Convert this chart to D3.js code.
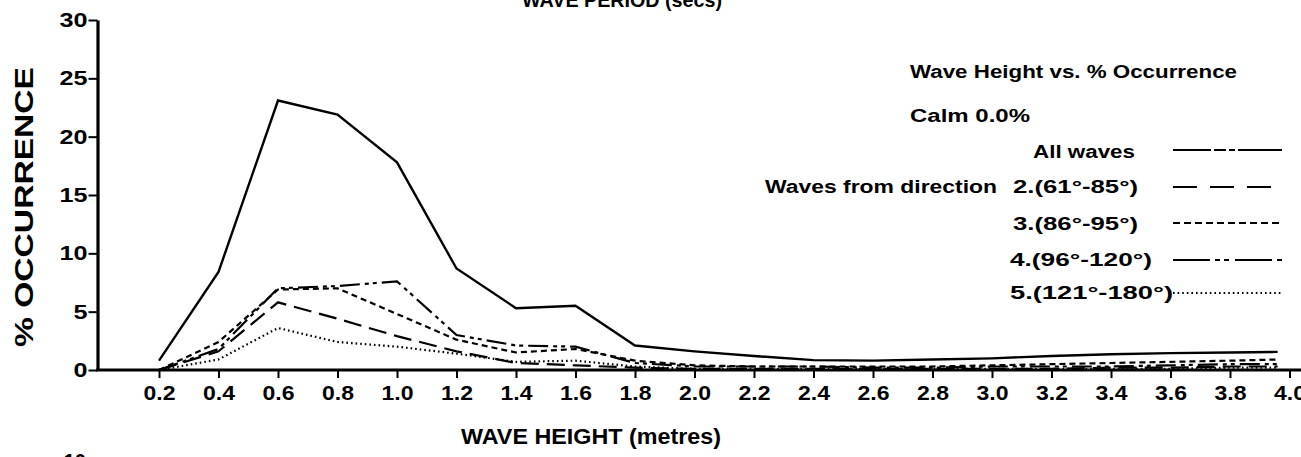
<!DOCTYPE html>
<html>
<head>
<meta charset="utf-8">
<script src="https://cdn.jsdelivr.net/npm/d3@7"></script>
<style>
  html, body { margin: 0; padding: 0; background: #fff; }
  svg { display: block; }
  text { font-family: "Liberation Sans", Arial, Helvetica, sans-serif; fill: #000; }
</style>
</head>
<body>
<svg id="chart" width="1301" height="457"></svg>
<script>
// Wave height bins (metres)
const heights = [0.2, 0.4, 0.6, 0.8, 1.0, 1.2, 1.4, 1.6, 1.8, 2.0,
                 2.2, 2.4, 2.6, 2.8, 3.0, 3.2, 3.4, 3.6, 3.8, 3.96];

// % occurrence per bin
const allWaves = [0.8, 8.4, 23.1, 21.9, 17.8, 8.7, 5.3, 5.5, 2.1, 1.6,
                  1.2, 0.85, 0.8, 0.9, 1.0, 1.2, 1.35, 1.45, 1.5, 1.55];
const dir2 = [0.0, 1.6, 5.8, 4.4, 2.9, 1.6, 0.6, 0.4, 0.2, 0.1,
              0.1, 0.1, 0.1, 0.1, 0.1, 0.1, 0.2, 0.2, 0.3, 0.3];
const dir3 = [0.0, 2.4, 6.9, 7.0, 4.8, 2.6, 1.5, 1.8, 0.8, 0.4,
              0.3, 0.3, 0.3, 0.3, 0.4, 0.5, 0.6, 0.7, 0.8, 0.9];
const dir4 = [0.0, 1.8, 7.0, 7.2, 7.6, 3.0, 2.1, 2.0, 0.6, 0.3,
              0.3, 0.3, 0.2, 0.2, 0.3, 0.3, 0.3, 0.4, 0.5, 0.5];
const dir5 = [0.0, 0.9, 3.6, 2.4, 2.0, 1.4, 0.7, 0.8, 0.3, 0.1,
              0.1, 0.1, 0.1, 0.1, 0.1, 0.1, 0.1, 0.1, 0.2, 0.2];

const seriesNames = ["All waves", "2.(61°-85°)", "3.(86°-95°)", "4.(96°-120°)", "5.(121°-180°)"];
const seriesValues = [allWaves, dir2, dir3, dir4, dir5];

const yTicks = [0, 5, 10, 15, 20, 25, 30];
const xTicks = [0.2, 0.4, 0.6, 0.8, 1.0, 1.2, 1.4, 1.6, 1.8, 2.0,
                2.2, 2.4, 2.6, 2.8, 3.0, 3.2, 3.4, 3.6, 3.8, 4.0];

// Dash styles for the plotted lines and for the legend samples
const dashes = ["none", "18,8", "6,4", "20,5,4,4,4,5", "1.6,3"];
const legendDashes = ["38,3,12,3,6,3,80", "24,13", "7,4", "37,5,5,4,5,6", "1.6,3"];

const svg = d3.select("#chart");

const x = d3.scaleLinear().domain([0, 4.04]).range([99.5, 1301.4]);
const y = d3.scaleLinear().domain([0, 30]).range([370, 20]);

const bold = sel => sel.attr("font-weight", "bold")
  .attr("font-family", "Liberation Sans, Arial, Helvetica, sans-serif");

// Heading of the neighbouring chart, cut by the top edge
svg.append("text")
  .attr("x", 622).attr("y", 7)
  .attr("text-anchor", "middle")
  .attr("font-size", 21)
  .attr("textLength", 200).attr("lengthAdjust", "spacingAndGlyphs")
  .call(bold)
  .text("WAVE PERIOD (secs)");

// Y axis
const yAxis = svg.append("g")
  .attr("transform", `translate(${x(0) - 2},0)`)
  .call(d3.axisLeft(y).tickValues(yTicks).tickSize(9).tickSizeOuter(0).tickPadding(1));
yAxis.select(".domain").attr("stroke-width", 3.2);
yAxis.selectAll(".tick line").attr("stroke-width", 2);
yAxis.selectAll(".tick text")
  .attr("font-size", 20)
  .attr("textLength", d => String(d).length * 14)
  .attr("lengthAdjust", "spacingAndGlyphs")
  .call(bold);

// X axis
const xAxis = svg.append("g")
  .attr("transform", `translate(0,${y(0)})`)
  .call(d3.axisBottom(x).tickValues(xTicks).tickSize(8).tickSizeOuter(0)
    .tickPadding(8).tickFormat(d3.format(".1f")));
xAxis.select(".domain").attr("stroke-width", 3.2)
  .attr("d", `M${x(0) - 3.5},0H${x.range()[1]}`);
xAxis.selectAll(".tick line").attr("stroke-width", 2);
xAxis.selectAll(".tick text")
  .attr("font-size", 20)
  .attr("textLength", 32).attr("lengthAdjust", "spacingAndGlyphs")
  .call(bold);

// Axis titles
svg.append("text")
  .attr("transform", `translate(33,${(y(0) + y(30)) / 2 + 12}) rotate(-90)`)
  .attr("text-anchor", "middle")
  .attr("font-size", 26)
  .attr("textLength", 280).attr("lengthAdjust", "spacingAndGlyphs")
  .call(bold)
  .text("% OCCURRENCE");

svg.append("text")
  .attr("x", 591).attr("y", 444)
  .attr("text-anchor", "middle")
  .attr("font-size", 22)
  .attr("textLength", 260).attr("lengthAdjust", "spacingAndGlyphs")
  .call(bold)
  .text("WAVE HEIGHT (metres)");

// Tick label of the chart below, cut by the bottom edge
svg.append("text")
  .attr("x", 86).attr("y", 468)
  .attr("text-anchor", "end")
  .attr("font-size", 20)
  .call(bold)
  .text("10");

// Series lines
const line = d3.line()
  .x((d, i) => x(heights[i]))
  .y(d => y(d));

svg.append("g").selectAll("path")
  .data(seriesValues)
  .join("path")
  .attr("d", d => line(d))
  .attr("fill", "none")
  .attr("stroke", "#000")
  .attr("stroke-width", (d, i) => i === 0 ? 2.4 : 2.2)
  .attr("stroke-dasharray", (d, i) => dashes[i]);

// Legend
const legend = svg.append("g");
legend.append("text")
  .attr("x", 910).attr("y", 78)
  .attr("font-size", 18)
  .attr("textLength", 327).attr("lengthAdjust", "spacingAndGlyphs")
  .call(bold)
  .text("Wave Height vs. % Occurrence");
legend.append("text")
  .attr("x", 910).attr("y", 122)
  .attr("font-size", 18)
  .attr("textLength", 120).attr("lengthAdjust", "spacingAndGlyphs")
  .call(bold)
  .text("Calm 0.0%");
legend.append("text")
  .attr("x", 765).attr("y", 193)
  .attr("font-size", 18)
  .attr("textLength", 232).attr("lengthAdjust", "spacingAndGlyphs")
  .call(bold)
  .text("Waves from direction");

const rowY = [150, 187, 223, 260, 293];
const rowBase = [158, 193, 230, 266, 299];
const rowX = [1033, 1013, 1013, 1010, 1010];
const rowW = [102, 125, 125, 142, 163];
const rows = legend.selectAll("g.row")
  .data(seriesNames)
  .join("g")
  .attr("class", "row");
rows.append("text")
  .attr("x", (d, i) => rowX[i])
  .attr("y", (d, i) => rowBase[i])
  .attr("font-size", 18)
  .attr("textLength", (d, i) => rowW[i]).attr("lengthAdjust", "spacingAndGlyphs")
  .call(bold)
  .text(d => d);
rows.append("line")
  .attr("x1", 1173).attr("x2", 1282)
  .attr("y1", (d, i) => rowY[i]).attr("y2", (d, i) => rowY[i])
  .attr("stroke", "#000")
  .attr("stroke-width", 2)
  .attr("stroke-dasharray", (d, i) => legendDashes[i]);
</script>
</body>
</html>
